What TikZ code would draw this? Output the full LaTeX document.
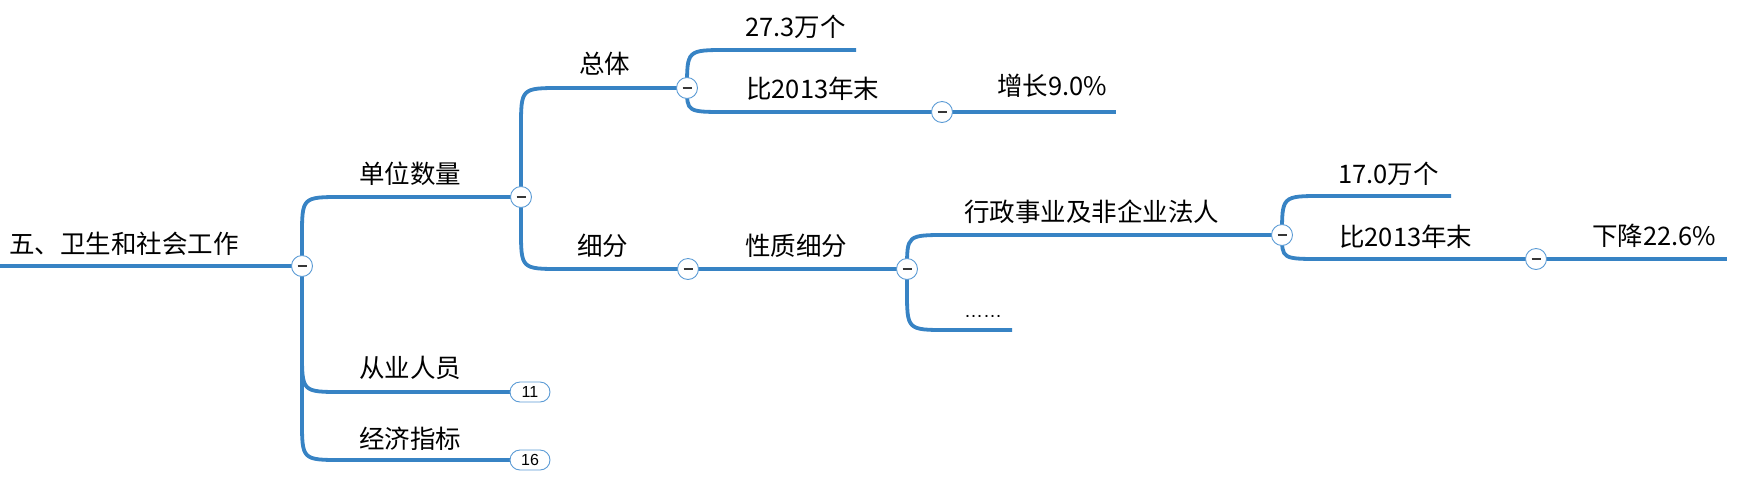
\documentclass[tikz,border=0pt]{standalone}
\usepackage{fontspec}
\setmainfont{Noto Sans CJK SC}
\newfontfamily\latinf{Liberation Sans}
\usetikzlibrary{calc,backgrounds}
\definecolor{lineblue}{RGB}{55,131,196}
\definecolor{ringblue}{RGB}{91,155,213}
\definecolor{minusgray}{RGB}{55,55,55}
\begin{document}
\begin{tikzpicture}[x=1pt,y=-1pt,
  br/.style={draw=lineblue, line width=3.8pt},
  elbow/.style={to path={let \p1=(\tikztostart), \p2=(\tikztotarget),
      \n1={min(40,abs(\y2-\y1))}, \n2={sign(\y2-\y1)} in
      -- (\x1,{\y2-\n2*\n1}) .. controls (\x1,\y2) .. ({\x1+40pt},\y2) -- (\tikztotarget)}},
  collapse/.style={circle, draw=ringblue, line width=0.9pt, fill=white,
      minimum size=21pt, inner sep=0pt,
      path picture={\draw[minusgray, line width=1.3pt]
        ([xshift=-4.5pt]path picture bounding box.center) --
        ([xshift=4.5pt]path picture bounding box.center);}},
  pill/.style={draw=ringblue, line width=0.9pt, fill=white, rounded corners=10pt,
      minimum width=40pt, minimum height=20pt, inner sep=0pt,
      font=\latinf\fontsize{16}{16}\selectfont},
  lbl/.style={anchor=base west, inner sep=0pt, font=\fontsize{25.5}{26}\selectfont}]
\useasboundingbox (0,0) rectangle (1738,483);

% collapse markers and badges
\node[collapse] (rootc) at (302,266) {};
\node[collapse] (cdw) at (521,197) {};
\node[collapse] (czt) at (687,88) {};
\node[collapse] (cbt) at (942,112) {};
\node[collapse] (cxf) at (688,269) {};
\node[collapse] (cxz) at (907,269) {};
\node[collapse] (cxzsy) at (1282,235) {};
\node[collapse] (cbb) at (1536,259) {};
\node[pill] (p1) at (530,392) {11};
\node[pill] (p2) at (530,460) {16};

% free ends
\coordinate (rootstart) at (0,266);
\coordinate (e273) at (856,50);
\coordinate (ezz) at (1116,112);
\coordinate (edots) at (1012,330);
\coordinate (e17) at (1451,196);
\coordinate (exj) at (1727,259);

% connectors
\begin{pgfonlayer}{background}
\draw[br] (rootstart) -- (rootc.center);
\draw[br] (rootc.center) to[elbow] (cdw.center);
\draw[br] (rootc.center) to[elbow] (p1.center);
\draw[br] (rootc.center) to[elbow] (p2.center);
\draw[br] (cdw.center) to[elbow] (czt.center);
\draw[br] (cdw.center) to[elbow] (cxf.center);
\draw[br] (czt.center) to[elbow] (e273);
\draw[br] (czt.center) to[elbow] (cbt.center);
\draw[br] (cbt.center) -- (ezz);
\draw[br] (cxf.center) -- (cxz.center);
\draw[br] (cxz.center) to[elbow] (cxzsy.center);
\draw[br] (cxz.center) to[elbow] (edots);
\draw[br] (cxzsy.center) to[elbow] (e17);
\draw[br] (cxzsy.center) to[elbow] (cbb.center);
\draw[br] (cbb.center) -- (exj);
\end{pgfonlayer}

% labels
\node[lbl] (troot) at (9,253) {五、卫生和社会工作};
\node[lbl] (tdw) at (359,183) {单位数量};
\node[lbl] (tcy) at (359,377) {从业人员};
\node[lbl] (tjj) at (359,448) {经济指标};
\node[lbl] (tzt) at (579,73) {总体};
\node[lbl] (t273) at (745,36) {27.3万个};
\node[lbl] (tbt) at (746,98) {比2013年末};
\node[lbl] (tzz) at (997,95) {增长9.0\%};
\node[lbl] (txf) at (577,255) {细分};
\node[lbl] (txz) at (745,255) {性质细分};
\node[lbl] (txzsy) at (964,221) {行政事业及非企业法人};
\node[lbl, font=\latinf\fontsize{19}{19}\selectfont] (tdots) at (964,317) {……};
\node[lbl] (t17) at (1338,183) {17.0万个};
\node[lbl] (tbb) at (1339,246) {比2013年末};
\node[lbl] (txj) at (1592,245) {下降22.6\%};
\end{tikzpicture}
\end{document}
